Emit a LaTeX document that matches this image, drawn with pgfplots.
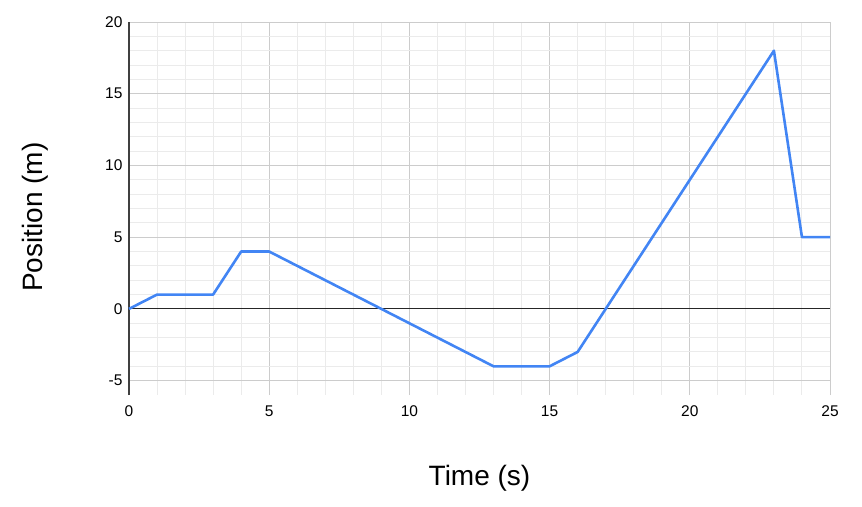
\documentclass[border=0pt]{standalone}
\usepackage{fontspec}
\setmainfont{Liberation Sans}
\usepackage{pgfplots}
\pgfplotsset{compat=1.18}

\definecolor{lineblue}{HTML}{4285F4}
\definecolor{majgrid}{HTML}{CCCCCC}
\definecolor{mingrid}{HTML}{EBEBEB}

\begin{document}
\begin{tikzpicture}
    \begin{axis}[
            name=ax,
            scale only axis,
            width=701pt,
            height=373pt,
            xmin=0, xmax=25,
            ymin=-6, ymax=20,
            clip=false,
            xtick={0,5,...,25},
            ytick={-5,0,...,20},
            minor xtick={1,...,24},
            minor ytick={-4,...,19},
            grid=both,
            major grid style={majgrid, line width=1pt},
            minor grid style={mingrid, line width=1pt},
            axis line style={draw=none},
            tick style={draw=none},
            /pgf/number format/assume math mode=true,
            ticklabel style={font=\fontsize{15.5}{18}\selectfont},
            xticklabel style={yshift=-7pt},
            yticklabel style={xshift=-3pt},
            xlabel={Time (s)},
            ylabel={Position (m)},
            label style={font=\fontsize{28}{32}\selectfont},
            xlabel style={at={(axis description cs:0.5,-0.2225)}, anchor=center},
            ylabel style={at={(axis description cs:-0.134,0.477)}, anchor=center},
        ]
        % zero line and left axis line
        \draw[black!85, line width=1.1pt] (axis cs:0,0) -- (axis cs:25,0);
        \draw[black!75, line width=1.3pt] (axis cs:0,-6) -- (axis cs:0,20);
        \addplot[lineblue, line width=2.6pt, line join=round] coordinates {
                (0,0) (1,1) (3,1) (4,4) (5,4) (13,-4) (15,-4)
                (16,-3) (23,18) (24,5) (25,5)
            };
    \end{axis}
    \pgfresetboundingbox
    \path ([xshift=-129pt,yshift=-111pt]ax.south west)
        rectangle ([xshift=32pt,yshift=22pt]ax.north east);
\end{tikzpicture}
\end{document}
